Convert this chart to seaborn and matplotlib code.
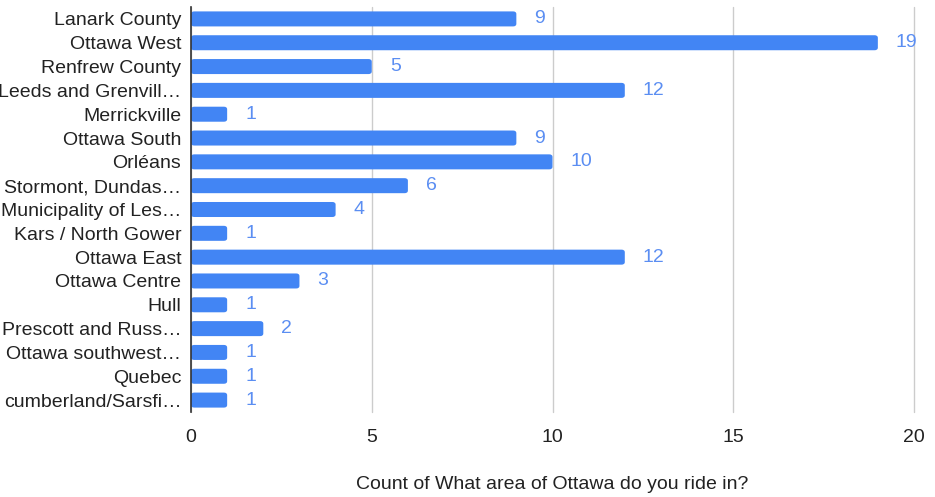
import pandas as pd
import matplotlib.pyplot as plt
import seaborn as sns
from matplotlib.patches import FancyBboxPatch

areas = [
    "Lanark County", "Ottawa West", "Renfrew County", "Leeds and Grenvill…",
    "Merrickville", "Ottawa South", "Orléans", "Stormont, Dundas…",
    "Municipality of Les…", "Kars / North Gower", "Ottawa East", "Ottawa Centre",
    "Hull", "Prescott and Russ…", "Ottawa southwest…", "Quebec",
    "cumberland/Sarsfi…",
]
counts = [9, 19, 5, 12, 1, 9, 10, 6, 4, 1, 12, 3, 1, 2, 1, 1, 1]
x_ticks = [0, 5, 10, 15, 20]

df = pd.DataFrame({"area": areas, "count": counts})

sns.set_style("white")
plt.rcParams["font.family"] = ["Liberation Sans", "DejaVu Sans"]

fig = plt.figure(figsize=(9.35, 4.97), dpi=100)
ax = fig.add_axes([191 / 935, 1 - 412 / 497, (914 - 191) / 935, (412 - 7) / 497])

blue = "#4285F4"
sns.barplot(data=df, x="count", y="area", color=blue, width=0.63,
            saturation=1, ax=ax, zorder=3)

# swap plain rectangles for bars with rounded ends
for p in list(ax.patches):
    x0, y0 = p.get_x(), p.get_y()
    w, h = p.get_width(), p.get_height()
    r = 0.09
    fb = FancyBboxPatch((x0, y0), w, h,
                        boxstyle=f"round,pad=0,rounding_size={r}",
                        mutation_aspect=h / (2 * r) * 0.35,
                        facecolor=blue, edgecolor="none", zorder=3)
    p.remove()
    ax.add_patch(fb)

for i, v in enumerate(counts):
    ax.annotate(str(v), (v, i), xytext=(13, 0), textcoords="offset points",
                ha="left", va="center", color="#5b8ef2", fontsize=14)

ax.set_xlim(0, 20)
ax.set_xticks(x_ticks)
ax.set_ylim(len(areas) - 0.5, -0.5)
ax.grid(axis="x", color="#cccccc", linewidth=1, zorder=0)
for gl in ax.get_xgridlines():
    gl.set_clip_on(False)
for s in ["top", "right", "bottom"]:
    ax.spines[s].set_visible(False)
ax.spines["left"].set_color("#333333")
ax.spines["left"].set_linewidth(1.2)
ax.spines["left"].set_zorder(4)
ax.tick_params(axis="y", length=0, pad=7, labelsize=14, labelcolor="#222222")
ax.tick_params(axis="x", length=0, pad=12, labelsize=14, labelcolor="#222222")
ax.set_ylabel("")
ax.set_xlabel("Count of What area of Ottawa do you ride in?", fontsize=14,
              color="#222222")
ax.xaxis.set_label_coords((552 - 191) / (914 - 191), -(476 - 412) / (412 - 7))

fig.savefig("out.png", dpi=100)
